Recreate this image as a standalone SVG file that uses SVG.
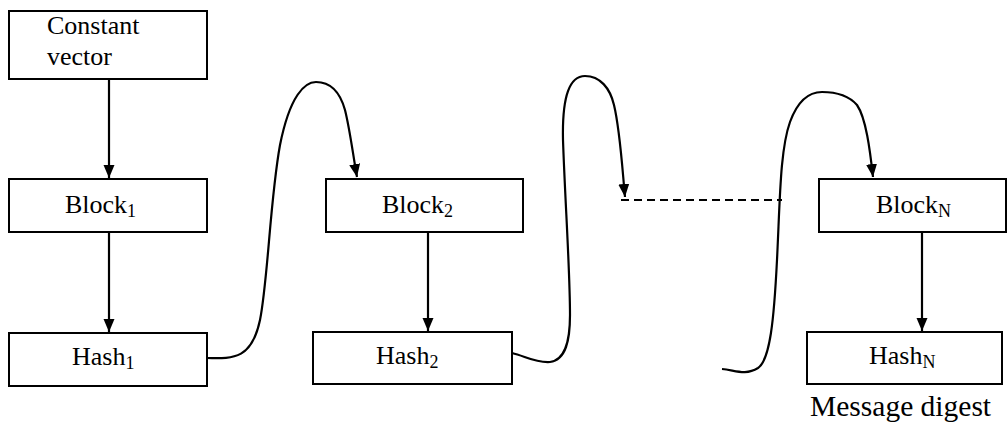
<svg xmlns="http://www.w3.org/2000/svg" width="1007" height="423" viewBox="0 0 1007 423">
  <style>
    .box { fill: #ffffff; stroke: #000000; stroke-width: 2; }
    .lbl { font-family: "Liberation Serif", "Times New Roman", serif; font-size: 26px; fill: #000000; }
    .sub { font-size: 18px; }
    .caption { font-size: 29.5px; }
    .link { fill: none; stroke: #000000; stroke-width: 2.2; }
    .dash { fill: none; stroke: #000000; stroke-width: 2; stroke-dasharray: 8 5; }
  </style>
  <defs>
    <marker id="head" markerUnits="userSpaceOnUse" markerWidth="14" markerHeight="14" viewBox="0 0 14 14" refX="13" refY="7" orient="auto">
      <path d="M0,1.5 L13,7 L0,12.5 Z" fill="#000000"/>
    </marker>
  </defs>
  <rect width="1007" height="423" fill="#ffffff"/>

  <g id="connectors">
    <line class="link" x1="109" y1="79" x2="109" y2="178" marker-end="url(#head)"/>
    <line class="link" x1="109" y1="232" x2="109" y2="332" marker-end="url(#head)"/>
    <line class="link" x1="428" y1="232" x2="428" y2="331" marker-end="url(#head)"/>
    <line class="link" x1="922" y1="232" x2="922" y2="331" marker-end="url(#head)"/>
    <!-- Hash1 loops over into Block2 -->
    <path class="link" d="M207,358 C235,359 252,358 260,320 C268,280 270,200 280,145 C290,95 305,82 316,82 C330,82 340,92 345,110 C350,130 353,155 357,177" marker-end="url(#head)"/>
    <!-- Hash2 loops over to the elided chain -->
    <path class="link" d="M512,353 C525,356 535,363 550,362 C566,360 570,340 570,315 C570,270 565,200 563,140 C562,95 570,76 585,76 C600,76 610,88 614,105 C620,130 622,165 625,197" marker-end="url(#head)"/>
    <line class="dash" x1="621" y1="200" x2="782" y2="200"/>
    <!-- last hash loops over into BlockN -->
    <path class="link" d="M722,369 C735,370 745,376 758,368 C770,360 774,320 777,260 C780,200 780,150 790,122 C798,100 810,92 822,92 C838,92 850,97 857,105 C866,118 870,150 873,177" marker-end="url(#head)"/>
  </g>

  <g id="constant-vector">
    <rect class="box" x="9" y="11" width="198" height="68"/>
    <text class="lbl" x="47" y="34">Constant</text>
    <text class="lbl" x="47" y="65">vector</text>
  </g>

  <g id="block1">
    <rect class="box" x="9" y="179" width="198" height="53"/>
    <text class="lbl" x="65" y="213">Block<tspan class="sub" dy="4">1</tspan></text>
  </g>

  <g id="hash1">
    <rect class="box" x="9" y="333" width="198" height="53"/>
    <text class="lbl" x="72" y="365">Hash<tspan class="sub" dy="4">1</tspan></text>
  </g>

  <g id="block2">
    <rect class="box" x="326" y="179" width="197" height="53"/>
    <text class="lbl" x="382" y="213">Block<tspan class="sub" dy="4">2</tspan></text>
  </g>

  <g id="hash2">
    <rect class="box" x="313" y="332" width="199" height="52"/>
    <text class="lbl" x="376" y="364">Hash<tspan class="sub" dy="4">2</tspan></text>
  </g>

  <g id="blockN">
    <rect class="box" x="819" y="179" width="187" height="53"/>
    <text class="lbl" x="876" y="213">Block<tspan class="sub" dy="4">N</tspan></text>
  </g>

  <g id="hashN">
    <rect class="box" x="807" y="332" width="195" height="52"/>
    <text class="lbl" x="869" y="364">Hash<tspan class="sub" dy="4">N</tspan></text>
    <text class="lbl caption" x="810" y="416">Message digest</text>
  </g>
</svg>
